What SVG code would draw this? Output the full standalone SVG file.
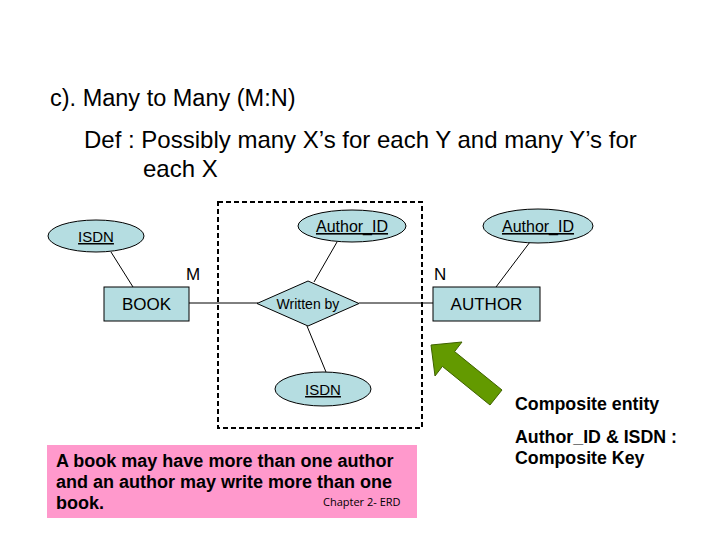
<svg xmlns="http://www.w3.org/2000/svg" width="720" height="540" viewBox="0 0 720 540">
<style>
.t{font-family:"Liberation Sans",Arial,sans-serif;fill:#000}
.ent{fill:#b5dde1;stroke:#000;stroke-width:1}
.lbl{font-family:"Liberation Sans",Arial,sans-serif;fill:#000;text-anchor:middle}
.key{text-decoration:underline}
.con line{stroke:#000;stroke-width:1}
.b{font-weight:bold}
</style>
<rect width="720" height="540" fill="#fff"/>
<text class="t" x="50" y="106" font-size="23.5">c). Many to Many (M:N)</text>
<text class="t" x="84" y="148" font-size="24">Def : Possibly many X’s for each Y and many Y’s for</text>
<text class="t" x="143" y="177" font-size="24">each X</text>

<rect id="composite" x="218" y="202" width="204" height="226" fill="none" stroke="#000" stroke-width="2" stroke-dasharray="5,3"/>

<g class="con">
<line x1="111" y1="252" x2="133" y2="287"/>
<line x1="189" y1="303" x2="258" y2="303"/>
<line x1="337" y1="242" x2="314" y2="282"/>
<line x1="359" y1="303" x2="433" y2="303"/>
<line x1="307" y1="326" x2="326" y2="372"/>
<line x1="530" y1="242" x2="496" y2="287"/>
</g>

<g id="isdn1">
<ellipse class="ent" cx="96" cy="236" rx="48" ry="16"/>
<text class="lbl key" x="96" y="242" font-size="15">ISDN</text>
</g>
<g id="book">
<rect class="ent" x="104" y="287" width="85" height="34"/>
<text class="lbl" x="146.5" y="310" font-size="17">BOOK</text>
</g>
<g id="authorid1">
<ellipse class="ent" cx="352" cy="226" rx="54" ry="16"/>
<text class="lbl key" x="352" y="232" font-size="16">Author_ID</text>
</g>
<g id="writtenby">
<polygon class="ent" points="257,303.5 308,281 359,303.5 308,326"/>
<text class="lbl" x="308" y="309" font-size="14">Written by</text>
</g>
<g id="isdn2">
<ellipse class="ent" cx="323" cy="389" rx="48" ry="17"/>
<text class="lbl key" x="323" y="395" font-size="15">ISDN</text>
</g>
<g id="authorid2">
<ellipse class="ent" cx="538" cy="226" rx="55" ry="17"/>
<text class="lbl key" x="538" y="232" font-size="16">Author_ID</text>
</g>
<g id="author">
<rect class="ent" x="433" y="287" width="107" height="34"/>
<text class="lbl" x="486.5" y="310" font-size="17">AUTHOR</text>
</g>

<text class="t" x="186" y="280" font-size="17">M</text>
<text class="t" x="434" y="280" font-size="17">N</text>

<g id="arrow">
<polygon points="431,345 462,342 454.6,351.6 502,390 490,405 442.4,366.4 435,376" fill="#639a00" stroke="#3f6200" stroke-width="1"/>
</g>

<text class="t b" x="515" y="410" font-size="17.8">Composite entity</text>
<text class="t b" x="515" y="443" font-size="17.8">Author_ID &amp; ISDN :</text>
<text class="t b" x="515" y="464" font-size="17.8">Composite Key</text>

<g id="note">
<rect x="47" y="445" width="370" height="73" fill="#ff99cc"/>
<text class="t b" x="56" y="467" font-size="18">A book may have more than one author</text>
<text class="t b" x="56" y="488" font-size="18">and an author may write more than one</text>
<text class="t b" x="56" y="509" font-size="18">book.</text>
<text x="323" y="506" font-size="11" font-family="'Open Sans','DejaVu Sans',sans-serif" fill="#000">Chapter 2- ERD</text>
</g>
</svg>
